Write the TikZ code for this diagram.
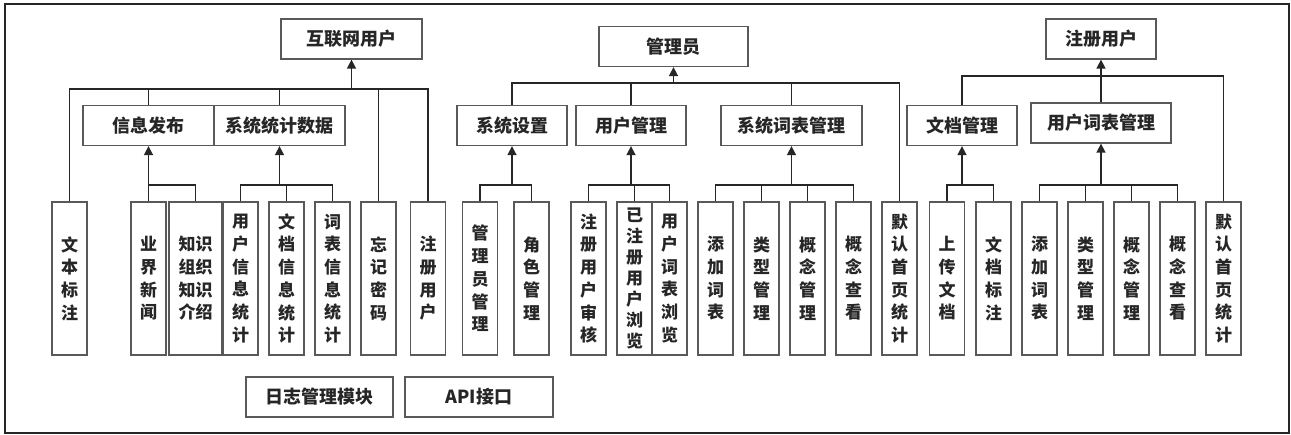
\documentclass[tikz,border=0pt]{standalone}
\usepackage{fontspec}
\setmainfont{Noto Sans CJK SC}
\usetikzlibrary{arrows.meta}

\begin{document}
\begin{tikzpicture}[x=1pt,y=-1pt,
    box/.style={draw=black!65,line width=1.3pt,inner sep=0pt,text=black!85,
        font=\bfseries\fontsize{18}{22}\selectfont},
    head/.style={box,minimum height=40pt},
    leaf/.style={box,minimum width=35pt,minimum height=153pt,align=center,
        font=\bfseries\fontsize{17}{22.7}\selectfont},
    link/.style={line width=1.6pt,black!85},
    arr/.style={link,-{Triangle[width=9pt,length=9pt]}}]
    \useasboundingbox (0,0) rectangle (1291,434);
    \draw[line width=1.3pt,black!85] (5,4) rectangle (1289,433);

    % top level
    \node[head,minimum width=141pt] (hlw) at (351.5,39)  {互联网用户};
    \node[head,minimum width=149pt] (gly) at (673.5,46.5) {管理员};
    \node[head,minimum width=110pt] (zcyh) at (1101,39)  {注册用户};

    % second level
    \node[head,minimum width=131pt] (xxfb) at (148.5,125.5) {信息发布};
    \node[head,minimum width=131pt] (xttj) at (279.5,125.5) {系统统计数据};
    \node[head,minimum width=110pt] (xtsz) at (512,125.5)   {系统设置};
    \node[head,minimum width=110pt] (yhgl) at (631,125.5)   {用户管理};
    \node[head,minimum width=141pt] (xtcb) at (791.5,125.5) {系统词表管理};
    \node[head,minimum width=110pt] (wdgl) at (962,125.5)   {文档管理};
    \node[head,minimum width=140pt] (yhcb) at (1101,123)    {用户词表管理};

    % leaves
    \foreach \id/\x/\txt in {a1/69.5/文\\本\\标\\注, a2/148.5/业\\界\\新\\闻,
        a4/240.5/用\\户\\信\\息\\统\\计, a5/286.5/文\\档\\信\\息\\统\\计,
        a6/332.5/词\\表\\信\\息\\统\\计, a7/378.5/忘\\记\\密\\码, a8/428/注\\册\\用\\户,
        b1/480/管\\理\\员\\管\\理, b2/531.5/角\\色\\管\\理,
        b3/588.5/注\\册\\用\\户\\审\\核, b5/669.5/用\\户\\词\\表\\浏\\览,
        b6/715.5/添\\加\\词\\表, b7/761.5/类\\型\\管\\理, b8/807.5/概\\念\\管\\理,
        b9/853.5/概\\念\\查\\看, b10/899.5/默\\认\\首\\页\\统\\计,
        c1/947/上\\传\\文\\档, c2/993.5/文\\档\\标\\注,
        c3/1039.5/添\\加\\词\\表, c4/1085.5/类\\型\\管\\理, c5/1131.5/概\\念\\管\\理,
        c6/1177.5/概\\念\\查\\看, c7/1223.5/默\\认\\首\\页\\统\\计}
        \node[leaf] (\id) at (\x,278.5) {\txt};
    \node[leaf,minimum width=53pt] (a3) at (195.5,278.5) {知识\\组织\\知识\\介绍};
    \node[leaf,font=\bfseries\fontsize{17}{21}\selectfont] (b4) at (634.5,278.5)
        {已\\注\\册\\用\\户\\浏\\览};

    % bottom modules
    \node[head,minimum width=147pt] (rzgl) at (319.5,397) {日志管理模块};
    \node[head,minimum width=148pt] (api) at (479,397)    {API接口};

    % buses
    \coordinate (busA) at (0,89);
    \coordinate (busB) at (0,83);
    \coordinate (busC) at (0,76);
    \coordinate (busL) at (0,185);

    \foreach \c in {a1,xxfb,xttj,a7,a8}
        \draw[link] (\c.north) |- (hlw.south |- busA);
    \draw[arr] (hlw.south |- busA) -- (hlw.south);
    \foreach \c in {xtsz,yhgl,xtcb,b10}
        \draw[link] (\c.north) |- (gly.south |- busB);
    \draw[arr] (gly.south |- busB) -- (gly.south);
    \foreach \c in {wdgl,c7}
        \draw[link] (\c.north) |- (zcyh.south |- busC);
    \draw[arr] (yhcb.north) -- (zcyh.south);

    \foreach \p/\c in {xxfb/a2,xxfb/a3,xttj/a4,xttj/a5,xttj/a6,xtsz/b1,xtsz/b2,
        yhgl/b3,yhgl/b4,yhgl/b5,xtcb/b6,xtcb/b7,xtcb/b8,xtcb/b9,
        wdgl/c1,wdgl/c2,yhcb/c3,yhcb/c4,yhcb/c5,yhcb/c6}
        \draw[link] (\c.north) |- (\p.south |- busL);
    \foreach \p in {xxfb,xttj,xtsz,yhgl,xtcb,wdgl,yhcb}
        \draw[arr] (\p.south |- busL) -- (\p.south);
\end{tikzpicture}
\end{document}
